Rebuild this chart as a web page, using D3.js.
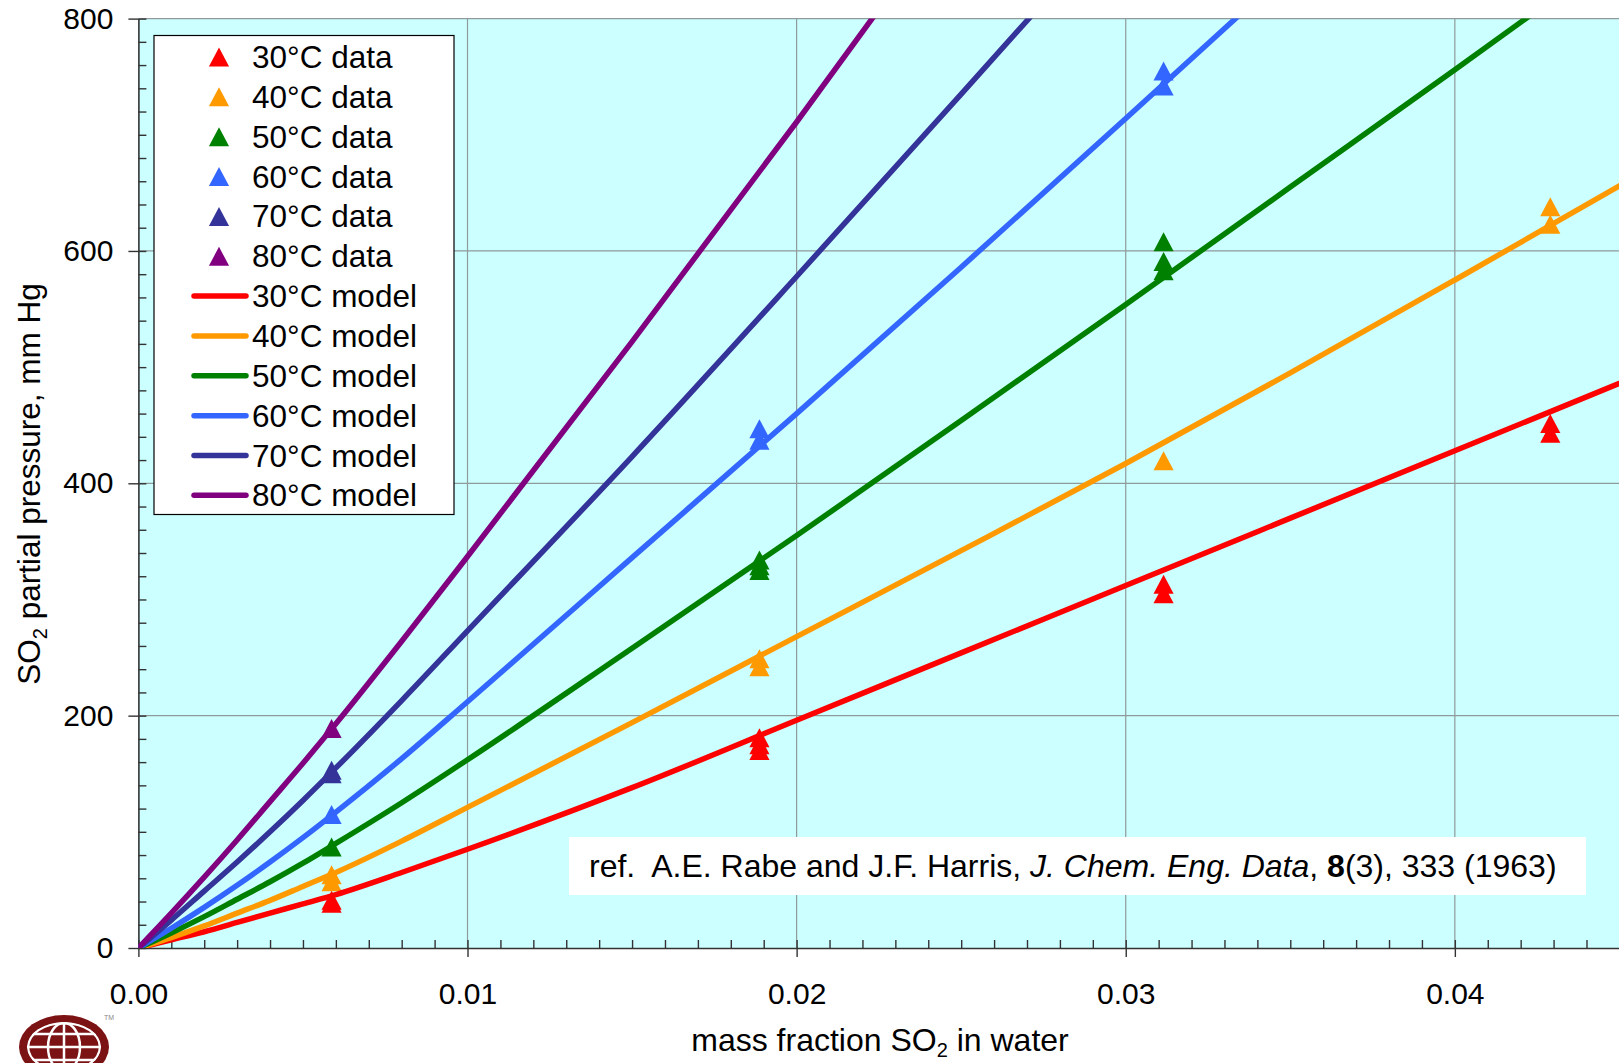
<!DOCTYPE html>
<html lang="en">
<head>
<meta charset="utf-8">
<title>SO2 partial pressure over water</title>
<script src="https://d3js.org/d3.v7.min.js"></script>
<style type="text/css">
    body{ margin:0; background:#fff; }
    svg{ display:block; font-family:"Liberation Sans", Arial, sans-serif; }
</style>
</head>
<body>
<svg id="chart"></svg>
<script type="text/javascript">

const w = 1619;
const h = 1063;

//DATA
const temps = ["30°C", "40°C", "50°C", "60°C", "70°C", "80°C"];

// measured points [mass fraction, mm Hg]
const data30 = [[0.00587, 41], [0.00587, 38.5], [0.01887, 181], [0.01887, 175], [0.01887, 170],
                [0.03115, 313], [0.03115, 305], [0.0429, 451.5], [0.0429, 443]];
const data40 = [[0.00587, 63], [0.00587, 57], [0.01887, 249], [0.01887, 242], [0.03115, 419.5],
                [0.0429, 638], [0.0429, 623]];
const data50 = [[0.00587, 87], [0.01887, 334], [0.01887, 329], [0.01887, 325],
                [0.03115, 608], [0.03115, 591], [0.03115, 583]];
const data60 = [[0.00587, 115], [0.01887, 447], [0.01887, 437], [0.03115, 755], [0.03115, 742]];
const data70 = [[0.00587, 153], [0.00587, 150]];
const data80 = [[0.00587, 189]];

// model curves
const modelX  = [0, 0.001, 0.002, 0.003, 0.004, 0.005, 0.006, 0.008, 0.01, 0.015, 0.02, 0.025, 0.03, 0.035, 0.04, 0.045];
const model30 = [0, 7, 14, 22, 30, 38, 46, 65, 85, 138, 196, 254, 312, 370, 428, 486];
const model40 = [0, 9, 19, 30, 41, 53, 65, 92, 121, 194, 268, 342, 417, 495, 575, 656];
const model50 = [0, 13, 27, 42, 57, 73, 90, 125, 162, 258, 355, 454, 554, 655, 756, 858];
const model60 = [0, 17, 35, 54, 74, 95, 117, 163, 212, 336, 460, 586, 714, 843];
const model70 = [0, 24, 49, 74, 100, 127, 155, 213, 273, 423, 578, 735, 893];
const model80 = [0, 30, 61, 93, 126, 159, 193, 264, 337, 522, 711, 905];

const xTicks = [0, 0.01, 0.02, 0.03, 0.04];
const yTicks = [0, 200, 400, 600, 800];

const refParts = [
    {t: "ref.  A.E. Rabe and J.F. Harris, ", style: "normal", weight: "normal"},
    {t: "J. Chem. Eng. Data", style: "italic", weight: "normal"},
    {t: ", ", style: "normal", weight: "normal"},
    {t: "8", style: "normal", weight: "bold"},
    {t: "(3), 333 (1963)", style: "normal", weight: "normal"}
];

//COLORS
const colors = ["#ff0000", "#ff9900", "#008000", "#3366ff", "#333399", "#800080"];

const dataSets  = [data30, data40, data50, data60, data70, data80];
const modelSets = [model30, model40, model50, model60, model70, model80];

//SCALES
const m = {left: 138.4, top: 18.6, right: 1619.4, bottom: 948};
const x = d3.scaleLinear().domain([0, 0.045]).range([m.left, m.right]);
const y = d3.scaleLinear().domain([0, 800]).range([m.bottom, m.top]);

//SVG
const svg = d3.select("#chart").attr("width", w).attr("height", h);

svg.append("defs").append("clipPath").attr("id", "plotclip")
   .append("rect").attr("x", m.left).attr("y", m.top)
   .attr("width", m.right - m.left).attr("height", m.bottom - m.top);

// plot background
svg.append("rect")
   .attr("x", m.left).attr("y", m.top)
   .attr("width", m.right - m.left).attr("height", m.bottom - m.top)
   .attr("fill", "#ccffff");

// gridlines
svg.append("g").selectAll("line")
   .data(xTicks.slice(1))
   .join("line")
   .attr("x1", d => x(d)).attr("x2", d => x(d))
   .attr("y1", m.top).attr("y2", m.bottom)
   .attr("stroke", "#8f9a9a").attr("stroke-width", 1.2);

svg.append("g").selectAll("line")
   .data(yTicks.slice(1))
   .join("line")
   .attr("x1", m.left).attr("x2", m.right)
   .attr("y1", d => y(d)).attr("y2", d => y(d))
   .attr("stroke", "#8f9a9a").attr("stroke-width", 1.2);

//AXES
const fmtX = d3.format(".2f");

const xMinor = svg.append("g")
   .attr("transform", `translate(0,${m.bottom})`)
   .call(d3.axisBottom(x).tickValues(d3.range(0, 0.0451, 0.001)).tickSize(-8).tickFormat(""));
xMinor.select(".domain").remove();

const xAxis = svg.append("g")
   .attr("transform", `translate(0,${m.bottom})`)
   .call(d3.axisBottom(x).tickValues(xTicks).tickSize(9).tickPadding(26).tickFormat(fmtX).tickSizeOuter(0));

const yMinor = svg.append("g")
   .attr("transform", `translate(${m.left},0)`)
   .call(d3.axisLeft(y).tickValues(d3.range(0, 801, 20)).tickSize(-8).tickFormat(""));
yMinor.select(".domain").remove();

const yAxis = svg.append("g")
   .attr("transform", `translate(${m.left},0)`)
   .call(d3.axisLeft(y).tickValues(yTicks).tickSize(10).tickPadding(15).tickSizeOuter(0));

[xAxis, yAxis, xMinor, yMinor].forEach(g => {
    g.selectAll("line").attr("stroke", "#333").attr("stroke-width", 1.4);
    g.select(".domain").attr("stroke", "#333").attr("stroke-width", 1.6);
    g.selectAll("text").attr("font-size", 30).attr("fill", "#000")
     .attr("font-family", "'Liberation Sans', Arial, sans-serif");
});

//MARKERS
const tri = (s) => `M0,${-s / 2}L${s * 0.53},${s / 2}L${-s * 0.53},${s / 2}Z`;

const markers = svg.append("g").attr("clip-path", "url(#plotclip)");
dataSets.forEach((ds, i) => {
    markers.append("g").selectAll("path")
       .data(ds)
       .join("path")
       .attr("d", tri(19))
       .attr("transform", d => `translate(${x(d[0])},${y(d[1])})`)
       .attr("fill", colors[i]);
});

//MODEL LINES
const line = d3.line()
   .x((d, i) => x(modelX[i]))
   .y(d => y(d))
   .curve(d3.curveMonotoneX);

const lines = svg.append("g").attr("clip-path", "url(#plotclip)");
modelSets.forEach((ms, i) => {
    lines.append("path")
       .datum(ms)
       .attr("d", line)
       .attr("fill", "none")
       .attr("stroke", colors[i])
       .attr("stroke-width", 5.5)
       .attr("stroke-linejoin", "round")
       .attr("stroke-linecap", "round");
});

//LEGEND
const legendItems = temps.map((t, i) => ({label: t + " data", kind: "data", color: colors[i]}))
    .concat(temps.map((t, i) => ({label: t + " model", kind: "model", color: colors[i]})));

const legend = svg.append("g");
legend.append("rect")
   .attr("x", 154).attr("y", 35.5)
   .attr("width", 300).attr("height", 479)
   .attr("fill", "#fff").attr("stroke", "#000").attr("stroke-width", 1.2);

const rows = legend.selectAll("g.row")
   .data(legendItems)
   .join("g")
   .attr("class", "row")
   .attr("transform", (d, i) => `translate(0,${57 + i * 39.85})`);

rows.filter(d => d.kind === "data").append("path")
   .attr("d", tri(19))
   .attr("transform", "translate(219,0)")
   .attr("fill", d => d.color);

rows.filter(d => d.kind === "model").append("line")
   .attr("x1", 194).attr("x2", 246)
   .attr("stroke", d => d.color)
   .attr("stroke-width", 5.5)
   .attr("stroke-linecap", "round");

rows.append("text")
   .attr("x", 252).attr("y", 11)
   .attr("font-size", 31.5)
   .text(d => d.label);

//AXIS TITLES
const yTitle = svg.append("text")
   .attr("transform", "translate(40,484) rotate(-90)")
   .attr("text-anchor", "middle")
   .attr("font-size", 31.5);
yTitle.append("tspan").text("SO");
yTitle.append("tspan").attr("font-size", 20).attr("dy", 7).text("2");
yTitle.append("tspan").attr("dy", -7).text(" partial pressure, mm Hg");

const xTitle = svg.append("text")
   .attr("x", 880).attr("y", 1051)
   .attr("text-anchor", "middle")
   .attr("font-size", 32);
xTitle.append("tspan").text("mass fraction SO");
xTitle.append("tspan").attr("font-size", 20).attr("dy", 6).text("2");
xTitle.append("tspan").attr("dy", -6).text(" in water");

//REFERENCE BOX
svg.append("rect")
   .attr("x", 569).attr("y", 837)
   .attr("width", 1017).attr("height", 58)
   .attr("fill", "#fff");

const ref = svg.append("text")
   .attr("x", 589).attr("y", 877)
   .attr("font-size", 32)
   .style("white-space", "pre");
ref.selectAll("tspan")
   .data(refParts)
   .join("tspan")
   .attr("font-style", d => d.style)
   .attr("font-weight", d => d.weight)
   .text(d => d.t);

//LOGO
const logo = svg.append("g").attr("transform", "translate(64,1047)");
logo.append("ellipse").attr("rx", 45).attr("ry", 32).attr("fill", "#7b1214");
logo.append("clipPath").attr("id", "logoclip")
   .append("ellipse").attr("rx", 37).attr("ry", 25);
const globe = logo.append("g").attr("clip-path", "url(#logoclip)")
   .attr("stroke", "#fff").attr("stroke-width", 2.5).attr("fill", "none");
globe.append("ellipse").attr("rx", 36).attr("ry", 24);
globe.append("ellipse").attr("rx", 16).attr("ry", 24);
globe.append("line").attr("x1", -40).attr("x2", 40);
globe.append("line").attr("y1", -30).attr("y2", 30);
globe.append("line").attr("x1", -40).attr("x2", 40).attr("y1", -13).attr("y2", -13);
globe.append("line").attr("x1", -40).attr("x2", 40).attr("y1", 13).attr("y2", 13);
svg.append("text").attr("x", 104).attr("y", 1020)
   .attr("font-size", 7).attr("fill", "#888").text("TM");

</script>
</body>
</html>
